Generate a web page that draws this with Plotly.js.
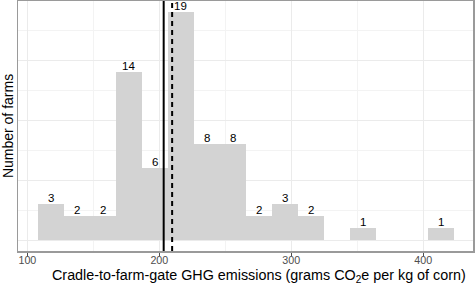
<!DOCTYPE html>
<html>
<head>
<meta charset="utf-8">
<script src="https://cdn.plot.ly/plotly-3.0.1.min.js"></script>
<style>html,body{margin:0;padding:0;background:#fff;}#chart{width:475px;height:283px;}</style>
</head>
<body>
<div id="chart"></div>
<script>
const binCenters = [117.85, 137.54, 157.23, 176.92, 196.61, 216.30, 235.99, 255.68, 275.37, 295.06, 314.75, 334.44, 354.13, 373.82, 393.51, 413.20];
const binWidth = 19.69;
const counts = [3, 2, 2, 14, 6, 19, 8, 8, 2, 3, 2, 0, 1, 0, 0, 1];
const xTickVals = [100, 200, 300, 400];
const xTickText = ['100', '200', '300', '400'];
const solidLineX = 203.3;
const dashedLineX = 209.7;
const xTitle = 'Cradle-to-farm-gate GHG emissions (grams CO<sub>2</sub>e per kg of corn)';
const yTitle = 'Number of farms';

const FONT = 'Liberation Sans, Arial, sans-serif';

const annotations = [];
counts.forEach((c, i) => {
  if (c > 0) annotations.push({
    x: binCenters[i], y: c, xref: 'x', yref: 'y', text: String(c),
    showarrow: false, xanchor: 'center', yanchor: 'middle', yshift: 6,
    font: {family: FONT, size: 11.5, color: '#000'}
  });
});
annotations.push({
  x: 0.5296, y: -0.098, xref: 'paper', yref: 'paper', text: xTitle,
  showarrow: false, xanchor: 'center', yanchor: 'middle',
  font: {family: FONT, size: 14.35, color: '#000'}
});

const traces = [
  {
    type: 'bar', x: binCenters, y: counts, width: binWidth,
    marker: {color: '#d3d3d3', line: {width: 0}},
    hoverinfo: 'skip', showlegend: false
  }
];

const layout = {
  width: 475, height: 283,
  margin: {l: 18, r: 2.3, t: 1, b: 32, pad: 0},
  paper_bgcolor: '#fff', plot_bgcolor: '#fff',
  font: {family: FONT, color: '#000'},
  bargap: 0,
  xaxis: {
    range: [92.9, 437.7], autorange: false,
    tickvals: xTickVals, ticktext: xTickText,
    tickfont: {family: FONT, size: 10.7, color: '#4d4d4d'},
    ticks: 'outside', ticklen: 3, tickcolor: '#4d4d4d', tickwidth: 1,
    ticklabelstandoff: -4,
    showgrid: true, gridcolor: '#ebebeb', gridwidth: 1,
    minor: {dtick: 50, tick0: 0, showgrid: true, gridcolor: '#f3f3f3', gridwidth: 1, ticks: ''},
    showline: true, mirror: true, linecolor: '#9a9a9a', linewidth: 1.5,
    zeroline: false
  },
  yaxis: {
    range: [-0.917, 19.917], autorange: false,
    tickvals: [0, 5, 10, 15], showticklabels: false, ticks: '',
    showgrid: true, gridcolor: '#ebebeb', gridwidth: 1,
    minor: {dtick: 2.5, tick0: 0, showgrid: true, gridcolor: '#f3f3f3', gridwidth: 1, ticks: ''},
    showline: true, mirror: true, linecolor: '#9a9a9a', linewidth: 1.5,
    zeroline: false,
    title: {text: yTitle, font: {family: FONT, size: 14, color: '#000'}, standoff: 2}
  },
  annotations: annotations,
  shapes: [
    {type: 'line', xref: 'x', yref: 'paper', x0: solidLineX, x1: solidLineX, y0: 0, y1: 1, line: {color: '#000', width: 2}},
    {type: 'line', xref: 'x', yref: 'paper', x0: dashedLineX, x1: dashedLineX, y0: 0, y1: 1, line: {color: '#000', width: 2, dash: '5px,4px'}}
  ]
};

Plotly.newPlot('chart', traces, layout, {displayModeBar: false, staticPlot: true});
</script>
</body>
</html>
